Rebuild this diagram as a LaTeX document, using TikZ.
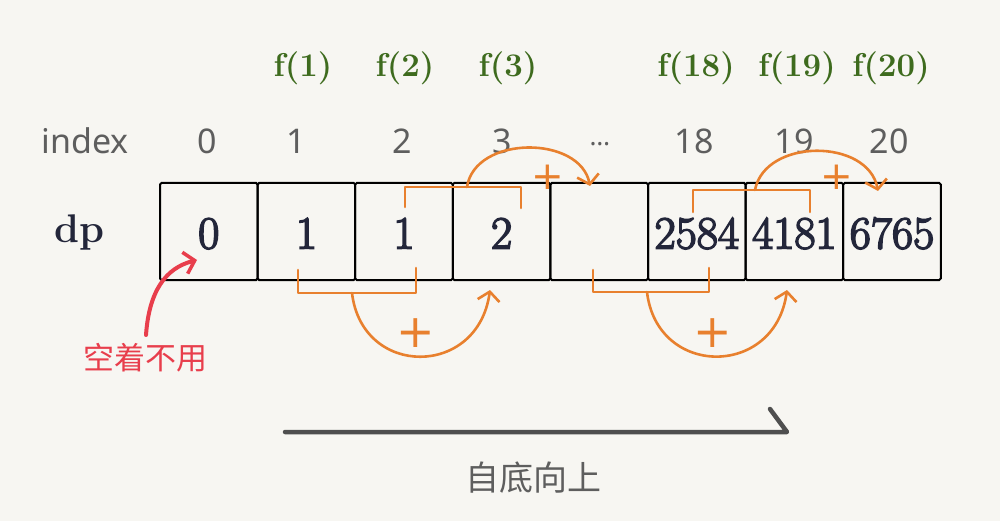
\documentclass[tikz,border=0pt]{standalone}
\usepackage{fontspec}
\newfontfamily\cjk{Noto Sans CJK SC}
\newfontfamily\idxfont{Noto Sans}
\newfontfamily\numfont{Latin Modern Roman}[FakeBold=3.5]
\newfontfamily\plusfont{DejaVu Sans}
\usetikzlibrary{arrows.meta}
\definecolor{bg}{HTML}{F7F6F2}
\definecolor{ink}{HTML}{23263A}
\definecolor{orng}{HTML}{E8802E}
\definecolor{fgreen}{HTML}{3E6B1E}
\definecolor{gtext}{HTML}{5E5E5E}
\definecolor{redn}{HTML}{E83E4C}
\definecolor{garrow}{HTML}{4F4F4F}
\tikzset{
  cell/.style={draw=black, line width=2pt, rounded corners=1.5pt, minimum width=97.6pt, minimum height=97pt,
    inner sep=0pt, text height=34pt, text depth=0pt, text=ink, font=\numfont\fontsize{46}{46}\selectfont},
  idx/.style={anchor=base, text=gtext, inner sep=0pt, font=\idxfont\fontsize{34}{34}\selectfont},
  flab/.style={anchor=base, text=fgreen, inner sep=0pt, font=\bfseries\fontsize{33}{33}\selectfont},
  bracket/.style={draw=orng, line width=2.6pt, line join=round, line cap=round},
  sumarc/.style={draw=orng, line width=2.6pt, line cap=round, -{Straight Barb[length=9pt,width=22pt,line width=2.6pt]}},
  plusbig/.style={text=orng, inner sep=0pt, font=\plusfont\fontsize{46}{46}\selectfont},
  plussmall/.style={text=orng, inner sep=0pt, font=\plusfont\fontsize{39}{39}\selectfont},
}
\begin{document}
\begin{tikzpicture}[x=1pt,y=-1pt]
\fill[bg] (0,0) rectangle (1000,521);
\useasboundingbox (0,0) rectangle (1000,521);

% top green labels
\node[flab] (f1) at (303,77) {f(1)};
\node[flab] (f2) at (405,77) {f(2)};
\node[flab] (f3) at (508,77) {f(3)};
\node[flab] (f18) at (696,77) {f(18)};
\node[flab] (f19) at (797,77) {f(19)};
\node[flab] (f20) at (891,77) {f(20)};

% index row
\node[idx] (ilab) at (85,154) {index};
\node[idx] (i0) at (207,154) {0};
\node[idx] (i1) at (296,154) {1};
\node[idx] (i2) at (402,154) {2};
\node[idx] (i3) at (502,154) {3};
\node[idx, font=\idxfont\fontsize{26}{26}\selectfont] (idots) at (600,146) {…};
\node[idx] (i18) at (694,154) {18};
\node[idx] (i19) at (794,154) {19};
\node[idx] (i20) at (889,154) {20};

% dp label
\node[anchor=base, text=ink, inner sep=0pt, font=\bfseries\fontsize{40}{40}\selectfont] (dpl) at (79,243) {dp};

% cells
\node[cell] (c0) at (208.8,231.5) {0};
\node[cell] (c1) at (306.4,231.5) {1};
\node[cell] (c2) at (404.0,231.5) {1};
\node[cell] (c3) at (501.6,231.5) {2};
\node[cell] (c4) at (599.2,231.5) {};
\node[cell] (c5) at (696.8,231.5) {2584};
\node[cell] (c6) at (794.4,231.5) {4181};
\node[cell] (c7) at (892.0,231.5) {6765};

% bottom-left bracket and arc
\coordinate (bla) at (298,270);
\coordinate (blb) at (298,293);
\coordinate (blc) at (416,293);
\coordinate (bld) at (416,268);
\draw[bracket] (bla) -- (blb) -- (blc) -- (bld);
\coordinate (blm) at (352,293);
\coordinate (blt) at (490,290);
\draw[sumarc] (blm) .. controls (362,378) and (478,378) .. (blt);
\node[plusbig] (pbl) at (416,333) {+};

% top-left bracket and arc
\coordinate (tla) at (405,207);
\coordinate (tlb) at (405,187);
\coordinate (tlc) at (521,187);
\coordinate (tld) at (521,208);
\draw[bracket] (tla) -- (tlb) -- (tlc) -- (tld);
\coordinate (tlm) at (467,187);
\coordinate (tlt) at (590,186);
\draw[sumarc] (tlm) .. controls (475,135) and (580,135) .. (tlt);
\node[plussmall] (ptl) at (548,177) {+};

% bottom-right bracket and arc
\coordinate (bra) at (593,270);
\coordinate (brb) at (593,292);
\coordinate (brc) at (709,292);
\coordinate (brd) at (709,268);
\draw[bracket] (bra) -- (brb) -- (brc) -- (brd);
\coordinate (brm) at (647,292);
\coordinate (brt) at (787,290);
\draw[sumarc] (brm) .. controls (657,378) and (775,378) .. (brt);
\node[plusbig] (pbr) at (713,333) {+};

% top-right bracket and arc
\coordinate (tra) at (693,212);
\coordinate (trb) at (693,190);
\coordinate (trc) at (810,190);
\coordinate (trd) at (810,212);
\draw[bracket] (tra) -- (trb) -- (trc) -- (trd);
\coordinate (trm) at (755,190);
\coordinate (trt) at (878,191);
\draw[sumarc] (trm) .. controls (765,138) and (868,138) .. (trt);
\node[plussmall] (ptr) at (837,177) {+};

% red note
\node[text=redn, inner sep=0pt, font=\cjk\fontsize{31}{31}\selectfont] (note) at (145,358) {空着不用};
\coordinate (rs) at (146,335);
\coordinate (rt) at (197,260);
\draw[draw=redn, line width=4pt, line cap=round, -{Straight Barb[length=10pt,width=22pt,line width=3.5pt]}]
  (rs) .. controls (149,292) and (165,268) .. (rt);

% bottom-up arrow
\coordinate (gs) at (285,432);
\coordinate (ge) at (787,432);
\coordinate (gh) at (770,409);
\draw[draw=garrow, line width=4.5pt, line cap=round, line join=round] (gs) -- (ge) -- (gh);
\node[text=gtext, inner sep=0pt, font=\cjk\fontsize{34}{34}\selectfont] (dir) at (533,478) {自底向上};
\end{tikzpicture}
\end{document}
